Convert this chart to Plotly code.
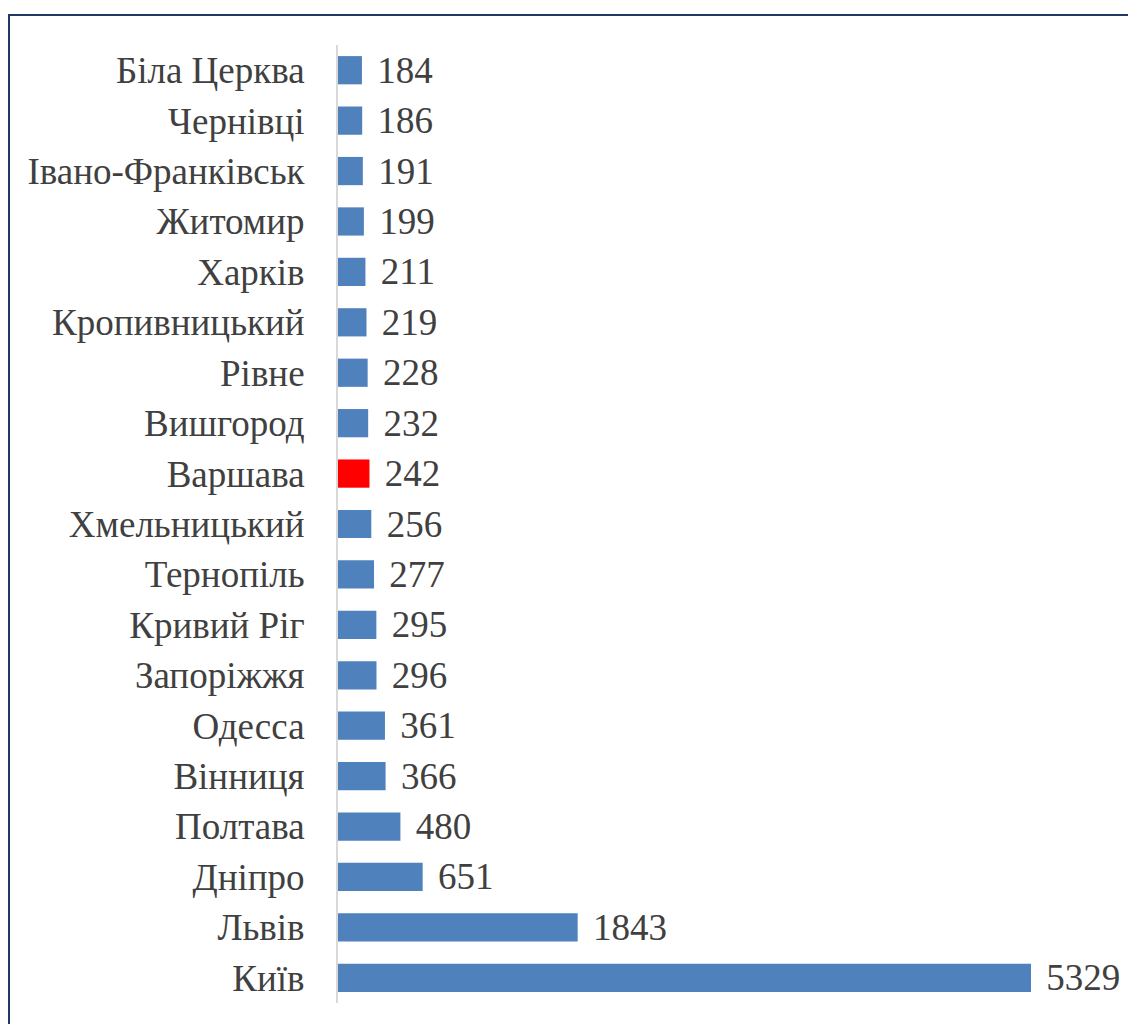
import plotly.graph_objects as go

cities = ["Біла Церква", "Чернівці", "Івано-Франківськ", "Житомир", "Харків",
          "Кропивницький", "Рівне", "Вишгород", "Варшава", "Хмельницький",
          "Тернопіль", "Кривий Ріг", "Запоріжжя", "Одесса", "Вінниця",
          "Полтава", "Дніпро", "Львів", "Київ"]
values = [184, 186, 191, 199, 211, 219, 228, 232, 242, 256, 277, 295, 296,
          361, 366, 480, 651, 1843, 5329]
highlight = "Варшава"

BLUE = "#4F81BD"
RED = "#FF0000"
colors = [RED if c == highlight else BLUE for c in cities]

# page body has an 8px margin, so the figure is sized/positioned to compensate
W, H = 1128, 1016
L, R, T, B = 330, 6, 37, 21
pw, ph = W - L - R, H - T - B

fig = go.Figure(go.Bar(
    x=values, y=cities, orientation="h",
    marker=dict(color=colors, line=dict(width=0)),
    text=values, texttemplate="\u2004%{x}", textposition="outside",
    constraintext="none",
    textfont=dict(family="Liberation Serif", size=37, color="#404040"),
    cliponaxis=False,
))

xmax = 5329 * pw / 693.0

fig.update_layout(
    width=W, height=H,
    margin=dict(l=L, r=R, t=T, b=B),
    paper_bgcolor="white", plot_bgcolor="white",
    bargap=0.44,
    showlegend=False,
    font=dict(family="Liberation Serif", size=37, color="#404040"),
    xaxis=dict(range=[0, xmax], visible=False, showgrid=False, zeroline=False),
    yaxis=dict(autorange="reversed", showline=True, linecolor="#D9D9D9", linewidth=2,
               ticks="", ticklabelstandoff=24, showgrid=False,
               tickfont=dict(family="Liberation Serif", size=37, color="#404040")),
    shapes=[dict(type="rect", xref="paper", yref="paper",
                 x0=(1 - L) / pw, x1=(W + 10 - L) / pw,
                 y0=-(H + 10 - (H - B)) / ph, y1=1 + (T - 7) / ph,
                 line=dict(color="#1F3864", width=2), fillcolor="rgba(0,0,0,0)",
                 layer="below")],
)

fig.write_html("out.html")
